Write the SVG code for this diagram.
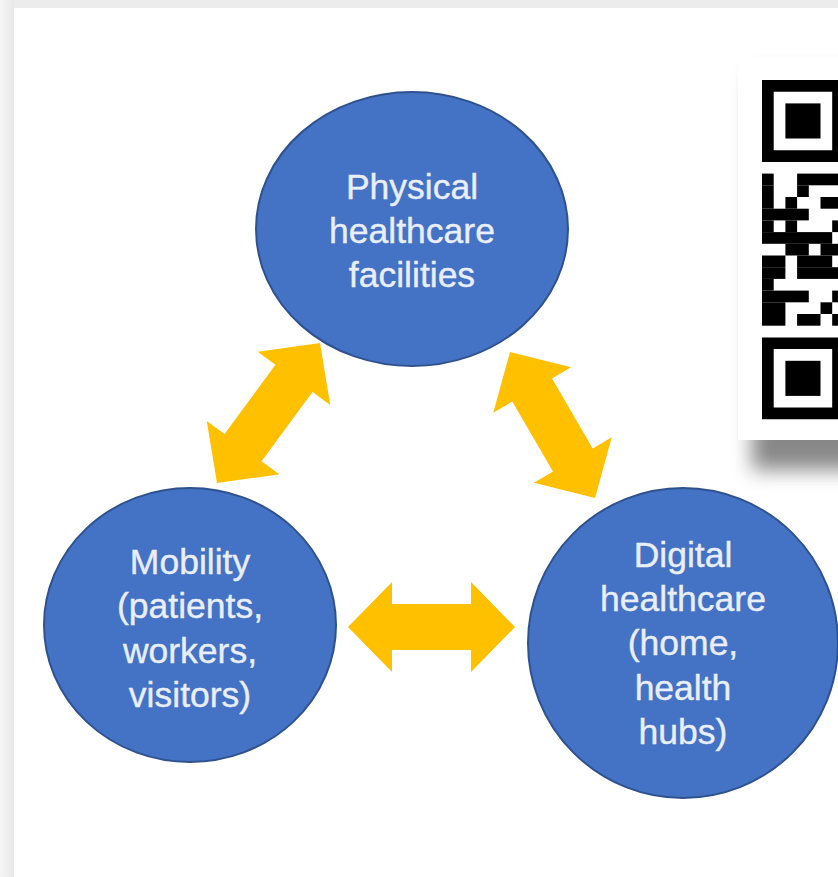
<svg xmlns="http://www.w3.org/2000/svg" width="838" height="877" viewBox="0 0 838 877">
  <defs>
    <style>
      .node { fill: #4472c4; stroke: #2f528f; stroke-width: 2; }
      .lbl { font-family: "Liberation Sans", Arial, sans-serif; font-size: 35.5px; fill: #e9eef8; stroke: #e9eef8; stroke-width: 0.4; text-anchor: middle; }
      .arrow { fill: #ffc000; }
      .qr { fill: #000; }
    </style>
    <filter id="blur" x="-30%" y="-30%" width="160%" height="160%">
      <feGaussianBlur stdDeviation="10"/>
    </filter>
    <linearGradient id="lband" x1="0" y1="0" x2="1" y2="0">
      <stop offset="0" stop-color="#f6f6f6"/>
      <stop offset="1" stop-color="#e8e8e8"/>
    </linearGradient>
  </defs>

  <!-- background -->
  <rect x="0" y="0" width="838" height="877" fill="#ececec"/>
  <rect x="0" y="0" width="14" height="877" fill="url(#lband)"/>
  <rect x="14" y="8" width="824" height="869" fill="#ffffff"/>

  <!-- QR card with shadow -->
  <g id="qr-card">
    <rect x="752" y="75" width="110" height="395" fill="#6a6a6a" filter="url(#blur)" opacity="0.8"/>
    <rect x="738" y="57" width="110" height="383" fill="#ffffff"/>
    <g class="qr" transform="translate(762,80) scale(11.7)">
      <path d="M0 0h7v7h-7z M1 1v5h5v-5z" fill-rule="evenodd"/>
      <rect x="2" y="2" width="3" height="3"/>
      <path d="M0 22h7v7h-7z M1 23v5h5v-5z" fill-rule="evenodd"/>
      <rect x="2" y="24" width="3" height="3"/>
      <rect x="0" y="8" width="1" height="1"/><rect x="3" y="8" width="4" height="1"/>
      <rect x="0" y="9" width="1" height="1"/><rect x="3" y="9" width="1" height="1"/>
      <rect x="0" y="10" width="1" height="1"/><rect x="2" y="10" width="1" height="1"/><rect x="5" y="10" width="2" height="1"/>
      <rect x="0" y="11" width="4" height="1"/>
      <rect x="0" y="12" width="1" height="1"/><rect x="2" y="12" width="1" height="1"/><rect x="6" y="12" width="1" height="1"/>
      <rect x="0" y="13" width="6" height="1"/>
      <rect x="2" y="14" width="2" height="1"/><rect x="5" y="14" width="2" height="1"/>
      <rect x="0" y="15" width="2" height="1"/><rect x="3" y="15" width="3" height="1"/>
      <rect x="0" y="16" width="2" height="1"/><rect x="3" y="16" width="4" height="1"/>
      <rect x="0" y="17" width="1" height="1"/>
      <rect x="0" y="18" width="4" height="1"/><rect x="6" y="18" width="1" height="1"/>
      <rect x="0" y="19" width="2" height="1"/><rect x="5" y="19" width="1" height="1"/>
      <rect x="0" y="20" width="2" height="1"/><rect x="3" y="20" width="2" height="1"/><rect x="6" y="20" width="1" height="1"/>
    </g>
  </g>

  <!-- connectors -->
  <g id="connectors">
    <polygon class="arrow" transform="translate(268.5,413) rotate(-53.7)" points="-87,0 -43,-45 -43,-23 43,-23 43,-45 87,0 43,45 43,23 -43,23 -43,45"/>
    <polygon class="arrow" transform="translate(552.5,425) rotate(59.8)" points="-84.5,0 -40.5,-45 -40.5,-23 40.5,-23 40.5,-45 84.5,0 40.5,45 40.5,23 -40.5,23 -40.5,45"/>
    <polygon class="arrow" transform="translate(431.5,627)" points="-83.5,0 -39.5,-45 -39.5,-23 39.5,-23 39.5,-45 83.5,0 39.5,45 39.5,23 -39.5,23 -39.5,45"/>
  </g>

  <!-- nodes -->
  <g id="node-physical">
    <ellipse class="node" cx="412" cy="229" rx="156" ry="137"/>
    <text class="lbl" x="412" y="199">Physical</text>
    <text class="lbl" x="412" y="243">healthcare</text>
    <text class="lbl" x="412" y="287">facilities</text>
  </g>
  <g id="node-mobility">
    <ellipse class="node" cx="190" cy="625" rx="146" ry="137"/>
    <text class="lbl" x="190" y="574">Mobility</text>
    <text class="lbl" x="190" y="618">(patients,</text>
    <text class="lbl" x="190" y="663">workers,</text>
    <text class="lbl" x="190" y="707">visitors)</text>
  </g>
  <g id="node-digital">
    <ellipse class="node" cx="683" cy="643" rx="155" ry="155"/>
    <text class="lbl" x="683" y="567">Digital</text>
    <text class="lbl" x="683" y="611">healthcare</text>
    <text class="lbl" x="683" y="655">(home,</text>
    <text class="lbl" x="683" y="700">health</text>
    <text class="lbl" x="683" y="744">hubs)</text>
  </g>
</svg>
